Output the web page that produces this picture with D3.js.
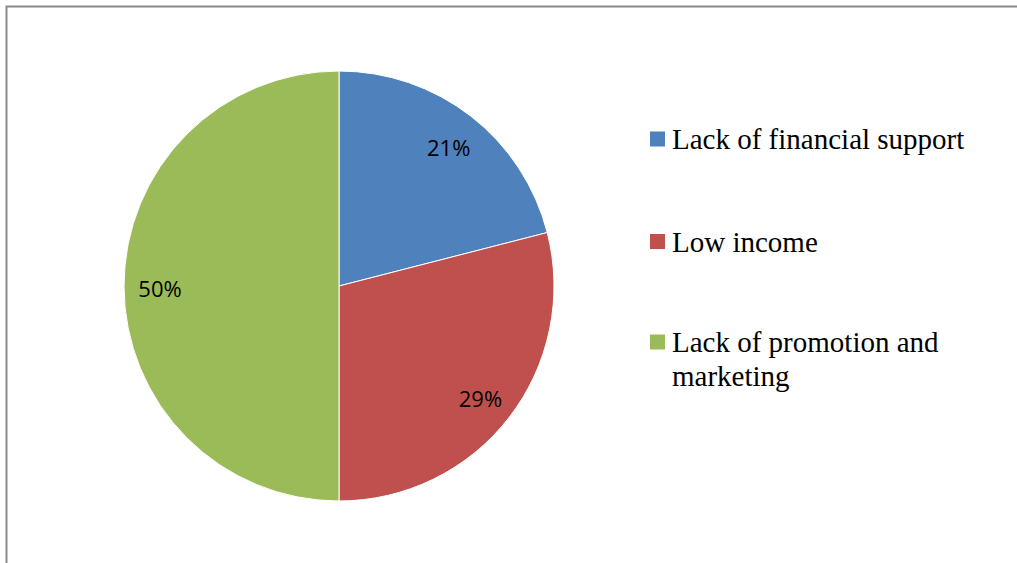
<!DOCTYPE html>
<html>
<head>
<meta charset="utf-8">
<script src="https://cdn.jsdelivr.net/npm/d3@7/dist/d3.min.js"></script>
<style>
  html, body { margin: 0; padding: 0; background: #ffffff; }
  svg { display: block; }
</style>
</head>
<body>
<svg id="chart" width="1017" height="563"></svg>
<script>
const categories = ["Lack of financial support", "Low income", "Lack of promotion and marketing"];
const values = [21, 29, 50];
const labels = ["21%", "29%", "50%"];
const legendLines = [["Lack of financial support"], ["Low income"], ["Lack of promotion and", "marketing"]];
const colors = ["#4F81BD", "#C0504D", "#9BBB59"];

const svg = d3.select("#chart");

// outer frame
svg.append("rect")
  .attr("x", 6.5).attr("y", 6.5)
  .attr("width", 1030).attr("height", 600)
  .attr("fill", "none")
  .attr("stroke", "#898989")
  .attr("stroke-width", 2);

const cx = 339, cy = 286, R = 215, labelR = 179;

const pie = d3.pie().value(d => d).sort(null);
const arcs = pie(values);
const arc = d3.arc().innerRadius(0).outerRadius(R);
const labelArc = d3.arc().innerRadius(labelR).outerRadius(labelR);

const g = svg.append("g").attr("transform", `translate(${cx},${cy})`);

g.selectAll("path.slice")
  .data(arcs)
  .enter().append("path")
  .attr("class", "slice")
  .attr("d", arc)
  .attr("fill", (d, i) => colors[i])
  .attr("stroke", "#ffffff")
  .attr("stroke-width", 1);

g.selectAll("text.pct")
  .data(arcs)
  .enter().append("text")
  .attr("class", "pct")
  .attr("transform", d => {
    const [x, y] = labelArc.centroid(d);
    return `translate(${x},${y + 2})`;
  })
  .attr("text-anchor", "middle")
  .attr("dominant-baseline", "central")
  .attr("font-family", "'Open Sans', 'Liberation Sans', sans-serif")
  .attr("font-size", 22)
  .attr("fill", "#000000")
  .text((d, i) => labels[i]);

// legend
const legendBaselines = [149, 251.5, 352];
const lineGap = 34;
const legend = svg.append("g");
categories.forEach((c, i) => {
  const y = legendBaselines[i];
  legend.append("rect")
    .attr("x", 650).attr("y", y - 17.5)
    .attr("width", 15).attr("height", 15)
    .attr("fill", colors[i]);
  const t = legend.append("text")
    .attr("x", 672).attr("y", y)
    .attr("font-family", "'Liberation Serif', 'Times New Roman', serif")
    .attr("font-size", 29)
    .attr("fill", "#000000");
  legendLines[i].forEach((ln, j) => {
    t.append("tspan").attr("x", 672).attr("y", y + j * lineGap).text(ln);
  });
});
</script>
</body>
</html>
